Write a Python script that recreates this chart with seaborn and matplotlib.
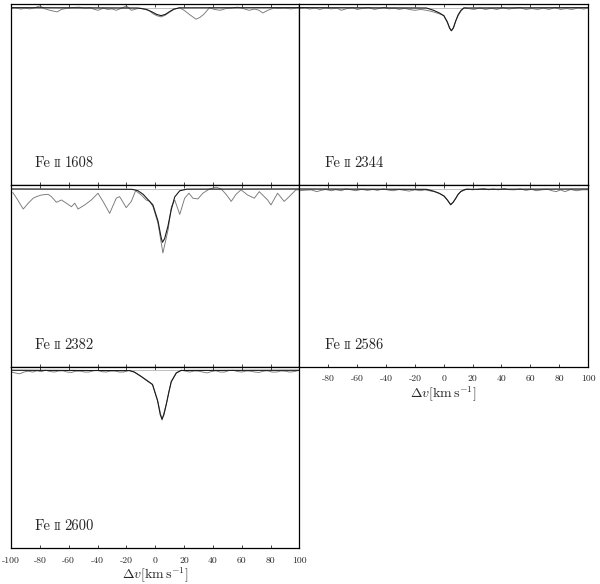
import numpy as np
import pandas as pd
import matplotlib.pyplot as plt
import seaborn as sns

sns.set_style("ticks")
plt.rcParams['font.family'] = 'serif'
plt.rcParams['font.serif'] = ['cmr10', 'DejaVu Serif']
plt.rcParams['mathtext.fontset'] = 'cm'
plt.rcParams['axes.unicode_minus'] = False

# transition labels (ion, stage, wavelength) in panel order
ions = ["Fe", "Fe", "Fe", "Fe", "Fe"]
stages = ["II", "II", "II", "II", "II"]
waves = ["1608", "2344", "2382", "2586", "2600"]

# observed spectra (grey), velocity in km/s and normalised flux
v1608_obs = [-100, -97, -93, -90, -87, -84, -80, -77, -73, -68, -65, -61, -57, -53, -49, -45,
             -42, -39.6, -36, -33, -30, -27, -23, -20, -16.5, -13, -10, -7, -4, -1.6, 1, 4.1,
             7, 10, 13, 16.8, 20, 24, 28.3, 31, 34, 37.6, 41, 45, 49, 53, 57, 61, 65, 69, 72,
             74.6, 78, 82, 86, 90, 94, 97, 100]
f1608_obs = [0.995, 0.998, 0.992, 0.997, 0.993, 0.998, 1.01, 0.995, 0.985, 0.976, 0.99, 0.997,
             1.0, 1.003, 0.997, 0.999, 0.99, 0.985, 0.997, 0.99, 0.993, 0.985, 0.998, 1.01,
             0.985, 0.993, 0.997, 0.99, 0.982, 0.966, 0.955, 0.948, 0.958, 0.975, 0.99, 1.0,
             0.985, 0.96, 0.935, 0.945, 0.965, 1.0, 0.99, 0.985, 0.995, 0.997, 1.003, 0.995,
             0.985, 0.992, 0.985, 0.97, 0.985, 0.997, 0.995, 0.997, 0.993, 0.996, 1.0]

v2344_obs = [-100, -96, -93, -89, -86, -82, -78, -74, -71, -67, -63, -60, -56, -52, -48, -45,
             -41, -38, -34, -31, -27, -24, -20, -16, -12, -9, -6.7, -3, 0.2, 2.5, 4, 5.3, 7,
             8.3, 10, 11.8, 14, 17, 21, 25, 29, 33, 37, 41, 45, 49, 53, 57, 61, 65, 69, 73, 77,
             81, 85, 89, 93, 97, 100]
f2344_obs = [0.995, 0.999, 0.992, 0.997, 0.99, 0.998, 0.993, 0.997, 0.985, 0.995, 0.999, 0.99,
             0.996, 1.0, 0.99, 0.995, 1.002, 0.993, 0.997, 0.99, 0.996, 0.99, 0.985, 0.99,
             0.985, 0.98, 0.975, 0.965, 0.955, 0.915, 0.89, 0.87, 0.89, 0.925, 0.955, 0.98,
             1.0, 0.995, 0.99, 0.998, 0.99, 0.996, 0.99, 1.0, 0.992, 0.997, 1.0, 0.99, 0.995,
             0.99, 0.997, 0.99, 1.0, 0.99, 0.995, 0.99, 0.998, 0.992, 0.998]

v2382_obs = [-98.8, -96.1, -91.5, -88, -84.6, -82.3, -78.9, -74.3, -72, -68.5, -65, -61.6,
             -58.1, -55.8, -53.5, -48.9, -44.3, -39.7, -36.2, -31.6, -27, -24.7, -20.1, -16.6,
             -13.6, -9.7, -6.3, -3.8, -1.5, 1.9, 5.3, 8.9, 11.2, 13.5, 17, 20.4, 23.4, 26.1,
             29.6, 33, 37.6, 42.2, 45.7, 49.1, 52.7, 56, 59.5, 64, 68.7, 72.1, 77.9, 80.2, 84.8,
             89.4, 92.9, 97.5, 100]
f2382_obs = [0.981, 0.948, 0.887, 0.92, 0.948, 0.957, 0.966, 0.97, 0.957, 0.925, 0.938, 0.92,
             0.90, 0.92, 0.887, 0.91, 0.938, 0.976, 0.93, 0.863, 0.948, 0.957, 0.895, 0.93,
             0.99, 0.966, 0.938, 0.93, 0.90, 0.807, 0.64, 0.77, 0.90, 0.938, 0.857, 0.948,
             0.976, 0.948, 0.944, 0.976, 1.0, 1.01, 1.0, 0.97, 0.93, 0.97, 0.995, 0.966, 0.948,
             0.985, 0.938, 0.91, 0.976, 0.93, 0.957, 0.995, 0.995]

v2586_obs = [-100, -96, -92, -88, -85, -82, -78, -75, -71, -68, -64, -61, -57, -53, -49, -46,
             -42, -38, -35, -31, -27, -24, -20, -16, -13, -10, -6.7, -3, 0.2, 2.5, 4.8, 6.5,
             8.3, 10, 11.8, 16.4, 20, 24, 28, 31, 34, 38, 42, 45, 49, 53, 57, 61, 64, 68, 72,
             75, 78, 81, 84, 88, 92, 96, 100]
f2586_obs = [0.99, 0.993, 0.995, 0.985, 0.992, 0.997, 0.99, 0.996, 0.99, 1.0, 0.995, 0.99,
             0.998, 0.992, 0.997, 0.992, 1.0, 0.993, 0.99, 0.997, 0.992, 0.988, 0.995, 0.99,
             0.995, 0.99, 0.985, 0.975, 0.96, 0.938, 0.91, 0.925, 0.947, 0.97, 0.985, 1.0,
             0.995, 0.999, 1.003, 0.995, 1.0, 0.995, 1.003, 0.996, 0.995, 1.0, 0.992, 0.998,
             0.99, 0.995, 0.998, 0.99, 0.985, 0.995, 0.985, 0.997, 0.99, 0.995, 0.995]

v2600_obs = [-100, -97, -94, -91, -88, -85, -82, -79, -76, -73, -70, -67, -64, -61, -58, -55,
             -52, -49, -46, -43, -40, -37, -34, -31, -28, -25, -22, -18, -14.5, -9.9, -5.3,
             -1.9, 1.6, 4.7, 7.7, 11.1, 14.6, 18, 21, 24, 27, 30, 33, 36, 39, 42, 45, 48, 51,
             54, 57, 60, 63, 66, 69, 72, 75, 78, 81, 84, 87, 90, 93, 96, 100]
f2600_obs = [0.99, 0.985, 0.98, 0.99, 0.995, 0.99, 0.997, 0.992, 1.0, 0.993, 0.99, 0.996,
             0.997, 0.99, 0.988, 0.995, 0.995, 0.99, 0.99, 0.997, 1.0, 0.992, 0.99, 0.996,
             0.996, 0.99, 0.99, 1.0, 0.99, 0.966, 0.938, 0.92, 0.83, 0.72, 0.81, 0.938, 0.985,
             1.0, 0.995, 0.99, 0.996, 0.995, 0.99, 0.985, 0.993, 0.997, 0.99, 0.99, 0.998,
             1.0, 0.993, 0.99, 0.996, 0.995, 0.99, 0.988, 0.995, 0.997, 0.99, 0.99, 0.996,
             0.995, 0.99, 0.992, 1.0]

# fitted profiles (black)
v1608_fit = [-100, -12, -6, -2, 1, 4, 7, 10, 13, 17, 100]
f1608_fit = [1.0, 0.998, 0.99, 0.975, 0.962, 0.955, 0.962, 0.978, 0.992, 0.999, 1.0]

v2344_fit = [-100, -12, -7, -3, 0, 2.5, 4, 5.3, 6.6, 8.3, 10, 12, 14, 100]
f2344_fit = [1.0, 0.998, 0.985, 0.97, 0.955, 0.92, 0.885, 0.87, 0.885, 0.925, 0.96, 0.985,
             0.998, 1.0]

v2382_fit = [-100, -16, -12, -8.4, -5, -1.6, 1.9, 4, 5, 6.5, 8.8, 11, 13.5, 17, 22, 100]
f2382_fit = [1.0, 0.998, 0.99, 0.97, 0.94, 0.91, 0.82, 0.73, 0.70, 0.72, 0.79, 0.88, 0.955,
             0.99, 0.999, 1.0]

v2586_fit = [-100, -12, -6.7, -3, 0.2, 2.5, 4.8, 6.5, 8.3, 10, 12, 15, 100]
f2586_fit = [1.0, 0.998, 0.987, 0.975, 0.96, 0.938, 0.912, 0.925, 0.947, 0.97, 0.987, 0.998,
             1.0]

v2600_fit = [-100, -18, -14.5, -9.9, -5.3, -1.9, 1.6, 3.5, 4.7, 6, 7.7, 9.5, 11.1, 14.6, 18, 100]
f2600_fit = [1.0, 0.998, 0.99, 0.966, 0.94, 0.92, 0.83, 0.75, 0.725, 0.75, 0.81, 0.88, 0.935,
             0.985, 0.999, 1.0]

obs = [(v1608_obs, f1608_obs), (v2344_obs, f2344_obs), (v2382_obs, f2382_obs),
       (v2586_obs, f2586_obs), (v2600_obs, f2600_obs)]
fit = [(v1608_fit, f1608_fit), (v2344_fit, f2344_fit), (v2382_fit, f2382_fit),
       (v2586_fit, f2586_fit), (v2600_fit, f2600_fit)]

ticks = [-100, -80, -60, -40, -20, 0, 20, 40, 60, 80, 100]

fig, axes = plt.subplots(3, 2, figsize=(6, 5.84), dpi=100)
fig.subplots_adjust(left=0.0183, right=0.98, top=0.993, bottom=0.0616, hspace=0, wspace=0)
axes[2, 1].remove()
panels = [axes[0, 0], axes[0, 1], axes[1, 0], axes[1, 1], axes[2, 0]]

for i, ax in enumerate(panels):
    ax.axhline(1.0, color='#b5b5b5', lw=0.6, zorder=1)
    sns.lineplot(x=obs[i][0], y=obs[i][1], ax=ax, color='#787878', lw=0.65, estimator=None, zorder=2)
    sns.lineplot(x=fit[i][0], y=fit[i][1], ax=ax, color='#1a1a1a', lw=0.8, estimator=None, zorder=3)
    ax.set_xlim(-100, 100)
    ax.set_ylim(0, 1.02)
    ax.set_yticks([])
    ax.set_xticks(ticks)
    ax.tick_params(axis='x', direction='in', top=True, bottom=True, length=2.5, width=0.6,
                   labelsize=7, pad=6)
    for s in ax.spines.values():
        s.set_linewidth(0.9)
        s.set_color('black')
    ax.set_xlabel('')
    ax.set_ylabel('')
    x0 = 0.083 if i % 2 == 0 else 0.087
    ax.annotate(ions[i], xy=(x0, 0.10), xycoords='axes fraction', fontsize=10.5, va='baseline')
    ax.annotate(stages[i], xy=(x0, 0.10), xycoords='axes fraction', xytext=(13.4, 0),
                textcoords='offset points', fontsize=7.8, va='baseline')
    ax.annotate(waves[i], xy=(x0, 0.10), xycoords='axes fraction', xytext=(21.3, 0),
                textcoords='offset points', fontsize=10.5, va='baseline')

xlab = r'$\Delta v[\mathrm{km\,s^{-1}}]$'
for ax in [axes[0, 0], axes[0, 1], axes[1, 0]]:
    ax.set_xticklabels([])
axes[2, 0].set_xticklabels([str(t) for t in ticks])
axes[2, 0].set_xlabel(xlab, fontsize=10, labelpad=1)
axes[1, 1].set_xticklabels([''] + [str(t) for t in ticks[1:]])
axes[1, 1].set_xlabel(xlab, fontsize=10, labelpad=1)

fig.savefig('out.png', dpi=100)
